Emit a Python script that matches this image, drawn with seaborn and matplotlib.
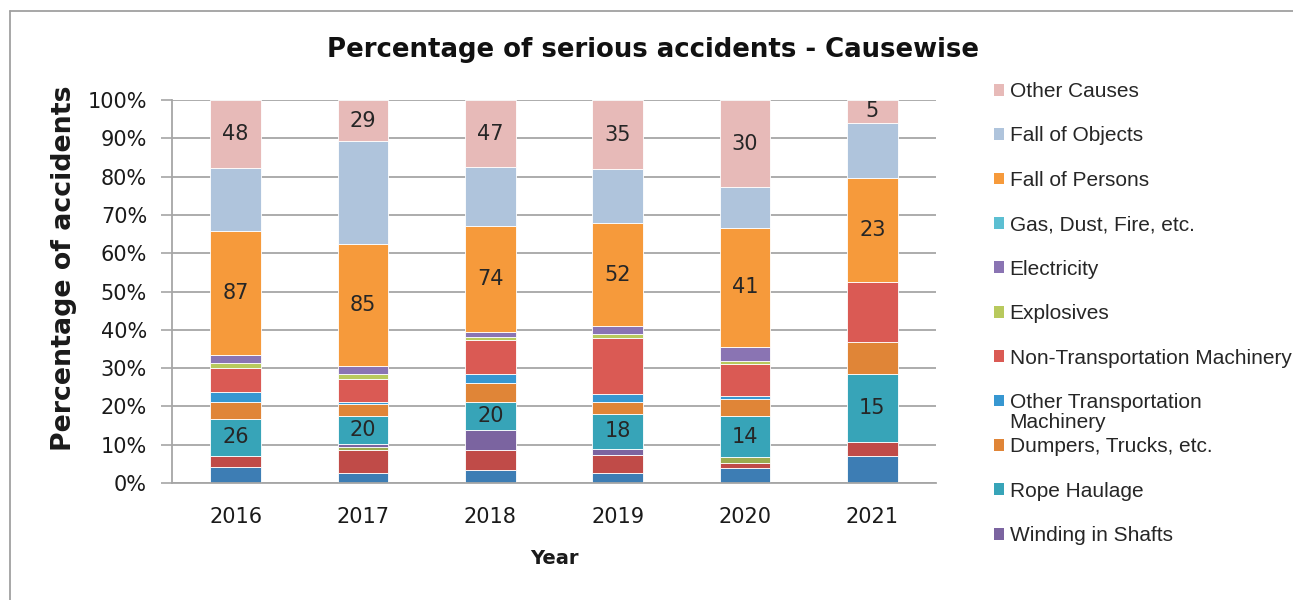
import matplotlib.pyplot as plt
import matplotlib.ticker as mticker
from matplotlib.patches import Patch
from matplotlib.lines import Line2D
import numpy as np
import pandas as pd
import seaborn as sns

years = [2016, 2017, 2018, 2019, 2020, 2021]

# causes, bottom of the stack first
causes = [
    "Roof Fall", "Side Fall", "Other Ground Movement",
    "Winding in Shafts", "Rope Haulage", "Dumpers, Trucks, etc.",
    "Other Transportation Machinery", "Non-Transportation Machinery",
    "Explosives", "Electricity", "Gas, Dust, Fire, etc.",
    "Fall of Persons", "Fall of Objects", "Other Causes",
]

# number of serious accidents per cause and year
roof_fall = [11, 7, 9, 5, 5, 6]
side_fall = [8, 16, 14, 9, 2, 3]
other_ground = [0, 2, 0, 0, 2, 0]
winding = [0, 2, 14, 3, 0, 0]
rope_haulage = [26, 20, 20, 18, 14, 15]
dumpers = [12, 8, 13, 6, 6, 7]
other_transport = [7, 2, 6, 4, 1, 0]
non_transport = [17, 16, 24, 28, 11, 13]
explosives = [3, 3, 2, 2, 1, 0]
electricity = [6, 6, 4, 4, 5, 0]
gas_dust_fire = [0, 0, 0, 0, 0, 0]
fall_persons = [87, 85, 74, 52, 41, 23]
fall_objects = [44, 72, 41, 27, 14, 12]
other_causes = [48, 29, 47, 35, 30, 5]

counts = [roof_fall, side_fall, other_ground, winding, rope_haulage, dumpers,
          other_transport, non_transport, explosives, electricity,
          gas_dust_fire, fall_persons, fall_objects, other_causes]

colors = ["#3d7db4", "#c04b48", "#9bab4f", "#7b64a0", "#37a4b8", "#e08537",
          "#3797d1", "#da5a54", "#b8c95d", "#8a74b3", "#5cbfd2", "#f69a3b",
          "#afc4dc", "#e7bab8"]

# series that carry a count label
labelled = ["Rope Haulage", "Fall of Persons", "Other Causes"]
# legend only shows these (the rest is cut off in the original)
legend_causes = causes[3:][::-1]

rows = []
for cause, vals in zip(causes, counts):
    for yr, v in zip(years, vals):
        rows.append({"year": yr, "cause": cause, "count": v})
df = pd.DataFrame(rows)

sns.set_theme(style="white")
plt.rcParams['font.family'] = ['DejaVu Sans']

W, H = 1293, 600
fig = plt.figure(figsize=(W / 100, H / 100), dpi=100)
ax = fig.add_axes([172 / W, 117 / H, 764 / W, 383 / H])

sns.histplot(data=df, x="year", weights="count", hue="cause",
             hue_order=causes[::-1], multiple="fill", discrete=True,
             shrink=0.4, palette=dict(zip(causes, colors)), alpha=1,
             edgecolor="white", linewidth=0.6, legend=False, ax=ax)

# count labels in the middle of their segment
vals = np.array(counts, dtype=float)
shares = vals / vals.sum(axis=0)
tops = np.cumsum(shares, axis=0)
for name in labelled:
    i = causes.index(name)
    for j, yr in enumerate(years):
        mid = tops[i, j] - shares[i, j] / 2
        ax.text(yr, mid, str(counts[i][j]), ha='center', va='center',
                fontsize=15, color='#262626')

grey = '#a6a6a6'
ax.set_xlim(years[0] - 0.5, years[-1] + 0.5)
ax.set_ylim(0, 1)
ax.yaxis.set_major_locator(mticker.MultipleLocator(0.1))
ax.yaxis.set_major_formatter(mticker.PercentFormatter(1.0, decimals=0))
ax.grid(axis='y', color=grey, lw=1.3)
ax.set_axisbelow(True)

ax.set_xticks(np.arange(years[0] - 0.5, years[-1] + 1))
ax.set_xticks(years, minor=True)
ax.set_xticklabels([str(y) for y in years], minor=True)
ax.tick_params(axis='x', which='major', length=8, width=1.2, color=grey,
               labelbottom=False)
ax.tick_params(axis='x', which='minor', length=0, pad=17, labelsize=15,
               labelcolor='#1a1a1a')
ax.tick_params(axis='y', length=8, width=1.2, color=grey, pad=10,
               labelsize=15, labelcolor='#1a1a1a', left=True)

for side in ['top', 'right']:
    ax.spines[side].set_visible(False)
for side in ['left', 'bottom']:
    ax.spines[side].set_color(grey)
    ax.spines[side].set_linewidth(1.3)

ax.set_xlabel('Year', fontsize=14, fontweight='bold', color='#1a1a1a')
ax.xaxis.set_label_coords(0.5, -0.172)
ax.set_ylabel('Percentage of accidents', fontsize=19.3, fontweight='bold',
              color='#1a1a1a')
ax.yaxis.set_label_coords(-0.124, 0.561)

fig.suptitle('Percentage of serious accidents - Causewise', x=0.505,
             y=1 - 50 / H, va='center', fontsize=18.7, fontweight='bold',
             color='#111111')

# legend, partly cut off at the right and bottom like the original
handles = [Patch(facecolor=colors[causes.index(c)], edgecolor='none',
                 label=("Other Transportation" if c == "Other Transportation Machinery" else c))
           for c in legend_causes]
leg = fig.legend(handles=handles, loc='upper left',
                 bbox_to_anchor=(994 / W, 1 - 82 / H), frameon=False,
                 prop={'family': 'Liberation Sans', 'size': 15},
                 handlelength=0.5, handleheight=0.5, handletextpad=0.25,
                 labelspacing=1.22, borderpad=0, borderaxespad=0,
                 labelcolor='#262626')

# second line of the wrapped legend entry, placed under its first line
fig.canvas.draw()
ot_text = leg.get_texts()[legend_causes.index("Other Transportation Machinery")]
bb = ot_text.get_window_extent()
fig.text(bb.x0 / W, (bb.y0 - 20) / H, 'Machinery', va='bottom', ha='left',
         fontsize=15, family='Liberation Sans', color='#262626')

# outer chart frame (left and top edges are visible)
fig.add_artist(Line2D([10 / W, 10 / W], [0, 1 - 11 / H],
                      transform=fig.transFigure, color='#a0a0a0', lw=1.3))
fig.add_artist(Line2D([10 / W, 1], [1 - 11 / H, 1 - 11 / H],
                      transform=fig.transFigure, color='#a0a0a0', lw=1.3))

fig.savefig('out.png', dpi=100)
